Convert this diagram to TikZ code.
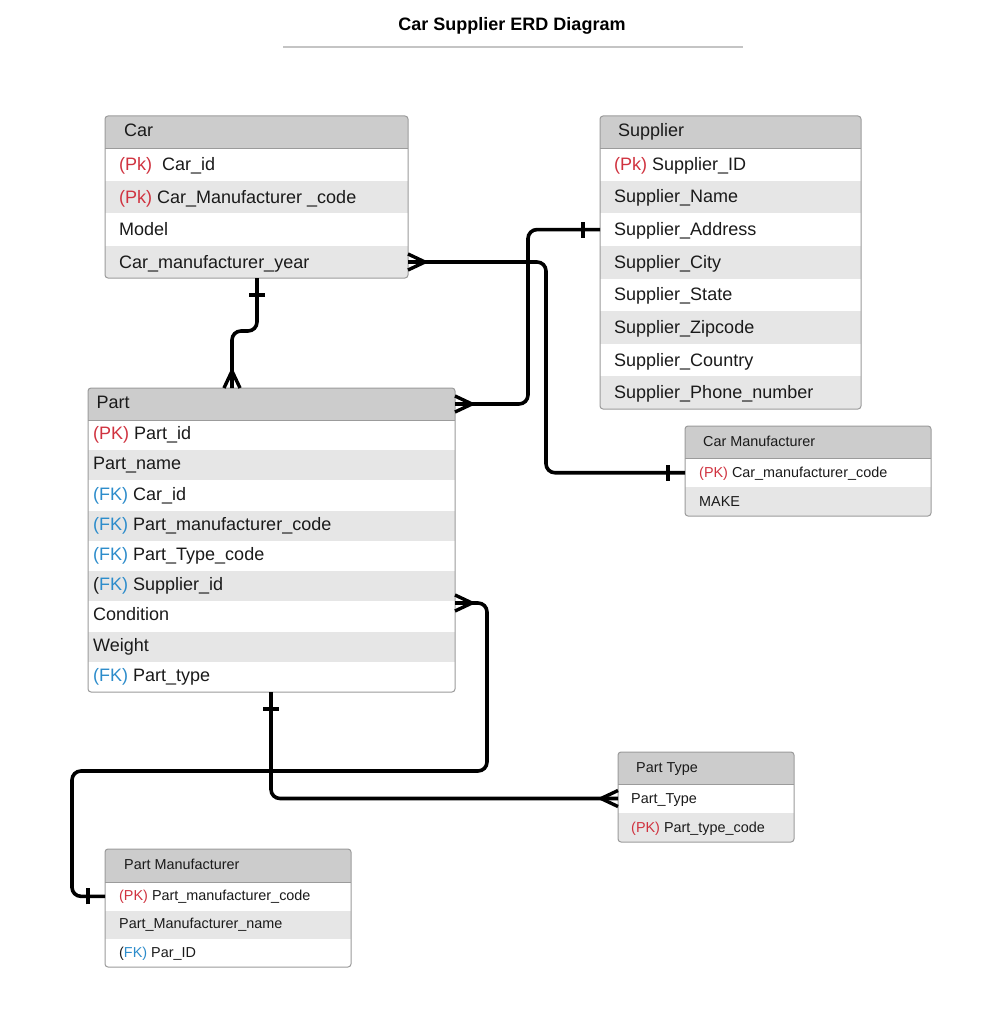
\documentclass[tikz,border=0pt]{standalone}
\usepackage{fontspec}
\setmainfont{Liberation Sans}
\usetikzlibrary{fit}
\definecolor{hdr}{HTML}{CCCCCC}
\definecolor{alt}{HTML}{E6E6E6}
\definecolor{frm}{HTML}{9B9B9B}
\definecolor{pk}{HTML}{D0323F}
\definecolor{fk}{HTML}{2C8CCB}
\definecolor{ink}{HTML}{1A1A1A}
\definecolor{rule}{HTML}{C4C4C4}
\newcommand\PK{\textcolor{pk}{(PK)}}
\newcommand\Pk{\textcolor{pk}{(Pk)}}
\newcommand\FK{\textcolor{fk}{(FK)}}
\tikzset{
  rowbox/.style={rectangle, inner sep=0pt, outer sep=0pt, draw=none},
  bigtxt/.style={anchor=base west, inner sep=0pt, text=ink, font=\fontsize{18}{21}\selectfont},
  smltxt/.style={anchor=base west, inner sep=0pt, text=ink, font=\fontsize{14.4}{17}\selectfont},
  tblframe/.style={rectangle, rounded corners=3pt, draw=frm, line width=1pt, inner sep=0pt, outer sep=0pt},
  conn/.style={line width=3.6pt, black, rounded corners=9pt},
  crowln/.style={line width=3.4pt, black},
  barln/.style={line width=3.6pt, black},
  hdrline/.style={draw=frm, line width=0.8pt}
}
% name, x1, y1, x2, y2, fill, text style, text
\newcommand\erow[8]{%
  \node[rowbox, fill=#6, fit={(#2,#3)(#4,#5)}] (#1) {};
  \node[#7] (#1t) at (#1.west) {#8};}
\newcommand\crowft[2]{\begin{scope}[shift={(#1)}, rotate=#2]
  \draw[crowln] (17,0) -- (0,8) (17,0) -- (0,-8);
  \end{scope}}
\newcommand\onebar[2]{\begin{scope}[shift={(#1)}, rotate=#2]
  \draw[barln] (17,-8) -- (17,8);
  \end{scope}}
\begin{document}
\begin{tikzpicture}[x=1pt, y=-1pt]
\useasboundingbox[fill=white] (0,0) rectangle (989,1024);
% title
\node[anchor=base, inner sep=0pt, font=\bfseries\fontsize{18}{21}\selectfont, text=black] (title) at (512,30.5) {Car Supplier ERD Diagram};
\draw[rule, line width=1.6pt] (283,47) -- (743,47);

% ---------- Car ----------
\begin{scope}
\clip[rounded corners=3pt] (105,116) rectangle (408,278);
\erow{carh}{105}{116}{408}{148.5}{hdr}{bigtxt, xshift=19pt, yshift=-4.5pt}{Car}
\erow{carid}{105}{148.5}{408}{181}{white}{bigtxt, xshift=14pt, yshift=-6pt}{\Pk\ \ Car\_id}
\erow{carmc}{105}{181}{408}{213.5}{alt}{bigtxt, xshift=14pt, yshift=-6pt}{\Pk\ Car\_Manufacturer \_code}
\erow{carmodel}{105}{213.5}{408}{246}{white}{bigtxt, xshift=14pt, yshift=-6pt}{Model}
\erow{caryear}{105}{246}{408}{278}{alt}{bigtxt, xshift=14pt, yshift=-6pt}{Car\_manufacturer\_year}
\end{scope}
\draw[hdrline] (carh.south west) -- (carh.south east);
\node[tblframe, fit={(105,116)(408,278)}] (car) {};

% ---------- Supplier ----------
\begin{scope}
\clip[rounded corners=3pt] (600,116) rectangle (861,409);
\erow{suph}{600}{116}{861}{148}{hdr}{bigtxt, xshift=18pt, yshift=-4.5pt}{Supplier}
\erow{sid}{600}{148}{861}{180.6}{white}{bigtxt, xshift=14pt, yshift=-6pt}{\Pk\ Supplier\_ID}
\erow{sname}{600}{180.6}{861}{213.25}{alt}{bigtxt, xshift=14pt, yshift=-6pt}{Supplier\_Name}
\erow{saddr}{600}{213.25}{861}{245.9}{white}{bigtxt, xshift=14pt, yshift=-6pt}{Supplier\_Address}
\erow{scity}{600}{245.9}{861}{278.5}{alt}{bigtxt, xshift=14pt, yshift=-6pt}{Supplier\_City}
\erow{sstate}{600}{278.5}{861}{311.1}{white}{bigtxt, xshift=14pt, yshift=-6pt}{Supplier\_State}
\erow{szip}{600}{311.1}{861}{343.75}{alt}{bigtxt, xshift=14pt, yshift=-6pt}{Supplier\_Zipcode}
\erow{scountry}{600}{343.75}{861}{376.4}{white}{bigtxt, xshift=14pt, yshift=-6pt}{Supplier\_Country}
\erow{sphone}{600}{376.4}{861}{409}{alt}{bigtxt, xshift=14pt, yshift=-6pt}{Supplier\_Phone\_number}
\end{scope}
\draw[hdrline] (suph.south west) -- (suph.south east);
\node[tblframe, fit={(600,116)(861,409)}] (supplier) {};

% ---------- Part ----------
\begin{scope}
\clip[rounded corners=3pt] (88,388) rectangle (455,692);
\erow{parth}{88}{388}{455}{420}{hdr}{bigtxt, xshift=8.5pt, yshift=-4.3pt}{Part}
\erow{pid}{88}{420}{455}{450.2}{white}{bigtxt, xshift=5pt, yshift=-4.5pt}{\PK\ Part\_id}
\erow{pname}{88}{450.2}{455}{480.4}{alt}{bigtxt, xshift=5pt, yshift=-4.5pt}{Part\_name}
\erow{pcar}{88}{480.4}{455}{510.7}{white}{bigtxt, xshift=5pt, yshift=-4.5pt}{\FK\ Car\_id}
\erow{pmcode}{88}{510.7}{455}{540.9}{alt}{bigtxt, xshift=5pt, yshift=-4.5pt}{\FK\ Part\_manufacturer\_code}
\erow{ptcode}{88}{540.9}{455}{571.1}{white}{bigtxt, xshift=5pt, yshift=-4.5pt}{\FK\ Part\_Type\_code}
\erow{psup}{88}{571.1}{455}{601.3}{alt}{bigtxt, xshift=5pt, yshift=-4.5pt}{(\textcolor{fk}{FK)} Supplier\_id}
\erow{pcond}{88}{601.3}{455}{631.6}{white}{bigtxt, xshift=5pt, yshift=-4.5pt}{Condition}
\erow{pweight}{88}{631.6}{455}{661.8}{alt}{bigtxt, xshift=5pt, yshift=-4.5pt}{Weight}
\erow{ptype}{88}{661.8}{455}{692}{white}{bigtxt, xshift=5pt, yshift=-4.5pt}{\FK\ Part\_type}
\end{scope}
\draw[hdrline] (parth.south west) -- (parth.south east);
\node[tblframe, fit={(88,388)(455,692)}] (part) {};

% ---------- Car Manufacturer ----------
\begin{scope}
\clip[rounded corners=3pt] (685,426) rectangle (931,516);
\erow{cmh}{685}{426}{931}{458.5}{hdr}{smltxt, xshift=18pt, yshift=-4pt}{Car Manufacturer}
\erow{cmpk}{685}{458.5}{931}{487}{white}{smltxt, xshift=14pt, yshift=-4.5pt}{\PK\ Car\_manufacturer\_code}
\erow{cmmake}{685}{487}{931}{516}{alt}{smltxt, xshift=14pt, yshift=-4.5pt}{MAKE}
\end{scope}
\draw[hdrline] (cmh.south west) -- (cmh.south east);
\node[tblframe, fit={(685,426)(931,516)}] (carman) {};

% ---------- Part Type ----------
\begin{scope}
\clip[rounded corners=3pt] (618,752) rectangle (794,842);
\erow{pth}{618}{752}{794}{784}{hdr}{smltxt, xshift=18pt, yshift=-4.3pt}{Part Type}
\erow{ptt}{618}{784}{794}{813}{white}{smltxt, xshift=13pt, yshift=-5pt}{Part\_Type}
\erow{ptpk}{618}{813}{794}{842}{alt}{smltxt, xshift=13pt, yshift=-5pt}{\PK\ Part\_type\_code}
\end{scope}
\draw[hdrline] (pth.south west) -- (pth.south east);
\node[tblframe, fit={(618,752)(794,842)}] (parttype) {};

% ---------- Part Manufacturer ----------
\begin{scope}
\clip[rounded corners=3pt] (105,849) rectangle (351,967);
\erow{pmh}{105}{849}{351}{882}{hdr}{smltxt, xshift=19pt, yshift=-3.8pt}{Part Manufacturer}
\erow{pmpk}{105}{882}{351}{910.7}{white}{smltxt, xshift=14pt, yshift=-4pt}{\PK\ Part\_manufacturer\_code}
\erow{pmname}{105}{910.7}{351}{939}{alt}{smltxt, xshift=14pt, yshift=-4pt}{Part\_Manufacturer\_name}
\erow{pmfk}{105}{939}{351}{967}{white}{smltxt, xshift=14pt, yshift=-4pt}{(\textcolor{fk}{FK)} Par\_ID}
\end{scope}
\draw[hdrline] (pmh.south west) -- (pmh.south east);
\node[tblframe, fit={(105,849)(351,967)}] (partman) {};

% ---------- Connectors ----------
% Car -- Part
\coordinate (a1) at ([xshift=152pt]car.south west);
\coordinate (b1) at ([xshift=144pt]part.north west);
\draw[conn] (a1) -- ++(0,53) -| (b1);
\onebar{a1}{-90}
\crowft{b1}{90}
% Supplier -- Part
\draw[conn] (saddr.west) -- ++(-72,0) |- (parth.east);
\onebar{saddr.west}{180}
\crowft{parth.east}{0}
% Car -- Car Manufacturer
\draw[conn] (caryear.east) -- ++(138,0) |- (cmpk.west);
\crowft{caryear.east}{0}
\onebar{cmpk.west}{180}
% Part -- Part Manufacturer
\coordinate (a4) at ([yshift=-1.7pt]psup.south east);
\draw[conn] (a4) -- ++(32,0) -- ++(0,168) -| ([xshift=-33pt]pmpk.west) -- (pmpk.west);
\crowft{a4}{0}
\onebar{pmpk.west}{180}
% Part -- Part Type
\coordinate (a5) at ([xshift=183pt]part.south west);
\draw[conn] (a5) |- (ptt.west);
\onebar{a5}{-90}
\crowft{ptt.west}{180}
\end{tikzpicture}
\end{document}
